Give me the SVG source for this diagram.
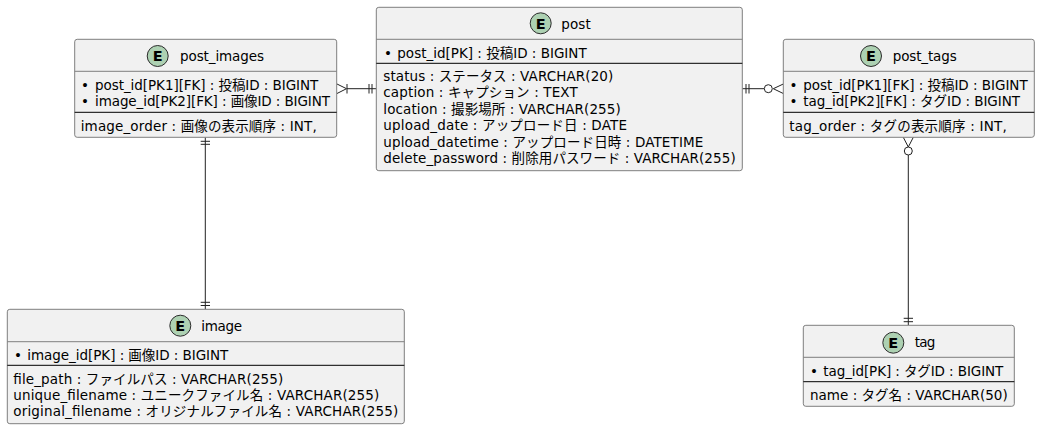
<svg xmlns="http://www.w3.org/2000/svg" width="1040" height="429" viewBox="0 0 1040 429">
<style>
text{font-family:"DejaVu Sans","Noto Sans CJK JP",sans-serif;font-size:13.5px;fill:#000}
.box{fill:#F1F1F1;stroke:#7f7f7f;stroke-width:1}
.hd{stroke:#7f7f7f;stroke-width:1}
.sep{stroke:#000;stroke-width:1}
.badge{fill:#ADD1B2;stroke:#2b2b2b;stroke-width:1}
.e{font-size:14.5px;font-weight:700;text-anchor:middle}
.c path{fill:none;stroke:#222;stroke-width:1}
.c circle{fill:#fff;stroke:#222;stroke-width:1}
</style>
<rect width="1040" height="429" fill="#fff"/>
<g id="connectors" class="c">
<path d="M347 88.7H376.3"/><path d="M337 84L346.5 88.7L337 93.5M347 84V93.5M369 84V93.5M372 84V93.5"/>
<path d="M742.3 88.7H764.3"/><path d="M746 84V93.5M749 84V93.5M783.3 84L773.3 88.7L783.3 93.5"/><circle cx="768.3" cy="88.7" r="4"/>
<path d="M205.3 137.3V309.3M200.7 141.3H210M200.7 144.3H210M200.7 302.3H210M200.7 305.5H210"/>
<path d="M908.3 155V325.3M903.3 137.3L908.3 147L913.3 137.3M903.7 318.3H913M903.7 321.7H913"/><circle cx="908.3" cy="151" r="4"/>
</g>
<g id="post_images">
<rect class="box" x="74.7" y="39.3" width="262" height="98" rx="2.5"/>
<line class="hd" x1="74.7" y1="71.3" x2="336.7" y2="71.3"/><line class="sep" x1="74.7" y1="112.3" x2="336.7" y2="112.3"/>
<circle class="badge" cx="157.7" cy="56" r="10.5"/><text class="e" x="157.7" y="61.2">E</text>
<text x="180" y="60.5" textLength="84">post_images</text>
<text x="81" y="89.5">•<tspan x="95" textLength="223.3">post_id[PK1][FK] : 投稿ID : BIGINT</tspan></text>
<text x="81" y="105.8">•<tspan x="95" textLength="235">image_id[PK2][FK] : 画像ID : BIGINT</tspan></text>
<text x="80.7" y="130.5" textLength="236">image_order : 画像の表示順序 : INT,</text>
</g>
<g id="post">
<rect class="box" x="376.3" y="7.3" width="366" height="163.4" rx="2.5"/>
<line class="hd" x1="376.3" y1="39.3" x2="742.3" y2="39.3"/><line class="sep" x1="376.3" y1="63.3" x2="742.3" y2="63.3"/>
<circle class="badge" cx="540.7" cy="23.3" r="10.5"/><text class="e" x="540.7" y="28.5">E</text>
<text x="561.3" y="28.5" textLength="29.4">post</text>
<text x="384" y="57.5">•<tspan x="397.3" textLength="189.4">post_id[PK] : 投稿ID : BIGINT</tspan></text>
<text x="383.3" y="81" textLength="230">status : ステータス : VARCHAR(20)</text>
<text x="383.3" y="97.3" textLength="194.4">caption : キャプション : TEXT</text>
<text x="383.3" y="113.6" textLength="237.4">location : 撮影場所 : VARCHAR(255)</text>
<text x="383.3" y="130" textLength="243.7">upload_date : アップロード日 : DATE</text>
<text x="383.3" y="146.5" textLength="320">upload_datetime : アップロード日時 : DATETIME</text>
<text x="383.3" y="163" textLength="352.4">delete_password : 削除用パスワード : VARCHAR(255)</text>
</g>
<g id="post_tags">
<rect class="box" x="783.3" y="39.3" width="251" height="98" rx="2.5"/>
<line class="hd" x1="783.3" y1="71.3" x2="1034.3" y2="71.3"/><line class="sep" x1="783.3" y1="112.3" x2="1034.3" y2="112.3"/>
<circle class="badge" cx="871" cy="56" r="10.5"/><text class="e" x="871" y="61.2">E</text>
<text x="892.7" y="60.5" textLength="64">post_tags</text>
<text x="789.5" y="89.5">•<tspan x="803.3" textLength="224.4">post_id[PK1][FK] : 投稿ID : BIGINT</tspan></text>
<text x="789.5" y="105.8">•<tspan x="803.3" textLength="216.7">tag_id[PK2][FK] : タグID : BIGINT</tspan></text>
<text x="789.3" y="130.5" textLength="217.4">tag_order : タグの表示順序 : INT,</text>
</g>
<g id="image">
<rect class="box" x="7.3" y="309.3" width="397" height="114.4" rx="2.5"/>
<line class="hd" x1="7.3" y1="341.7" x2="404.3" y2="341.7"/><line class="sep" x1="7.3" y1="365.3" x2="404.3" y2="365.3"/>
<circle class="badge" cx="180.3" cy="325.7" r="10.5"/><text class="e" x="180.3" y="330.9">E</text>
<text x="201.3" y="330.5" textLength="40.7">image</text>
<text x="14" y="359.7">•<tspan x="27.3" textLength="201">image_id[PK] : 画像ID : BIGINT</tspan></text>
<text x="13.3" y="383.5" textLength="270">file_path : ファイルパス : VARCHAR(255)</text>
<text x="13.3" y="399.8" textLength="366">unique_filename : ユニークファイル名 : VARCHAR(255)</text>
<text x="13.3" y="416" textLength="385">original_filename : オリジナルファイル名 : VARCHAR(255)</text>
</g>
<g id="tag">
<rect class="box" x="803.3" y="325.3" width="211" height="81" rx="2.5"/>
<line class="hd" x1="803.3" y1="357.3" x2="1014.3" y2="357.3"/><line class="sep" x1="803.3" y1="381.7" x2="1014.3" y2="381.7"/>
<circle class="badge" cx="893.3" cy="342.7" r="10.5"/><text class="e" x="893.3" y="347.9">E</text>
<text x="914.7" y="346.5" textLength="20.6">tag</text>
<text x="810" y="375.5">•<tspan x="823.3" textLength="180">tag_id[PK] : タグID : BIGINT</tspan></text>
<text x="810" y="399.7" textLength="197.7">name : タグ名 : VARCHAR(50)</text>
</g>
</svg>
